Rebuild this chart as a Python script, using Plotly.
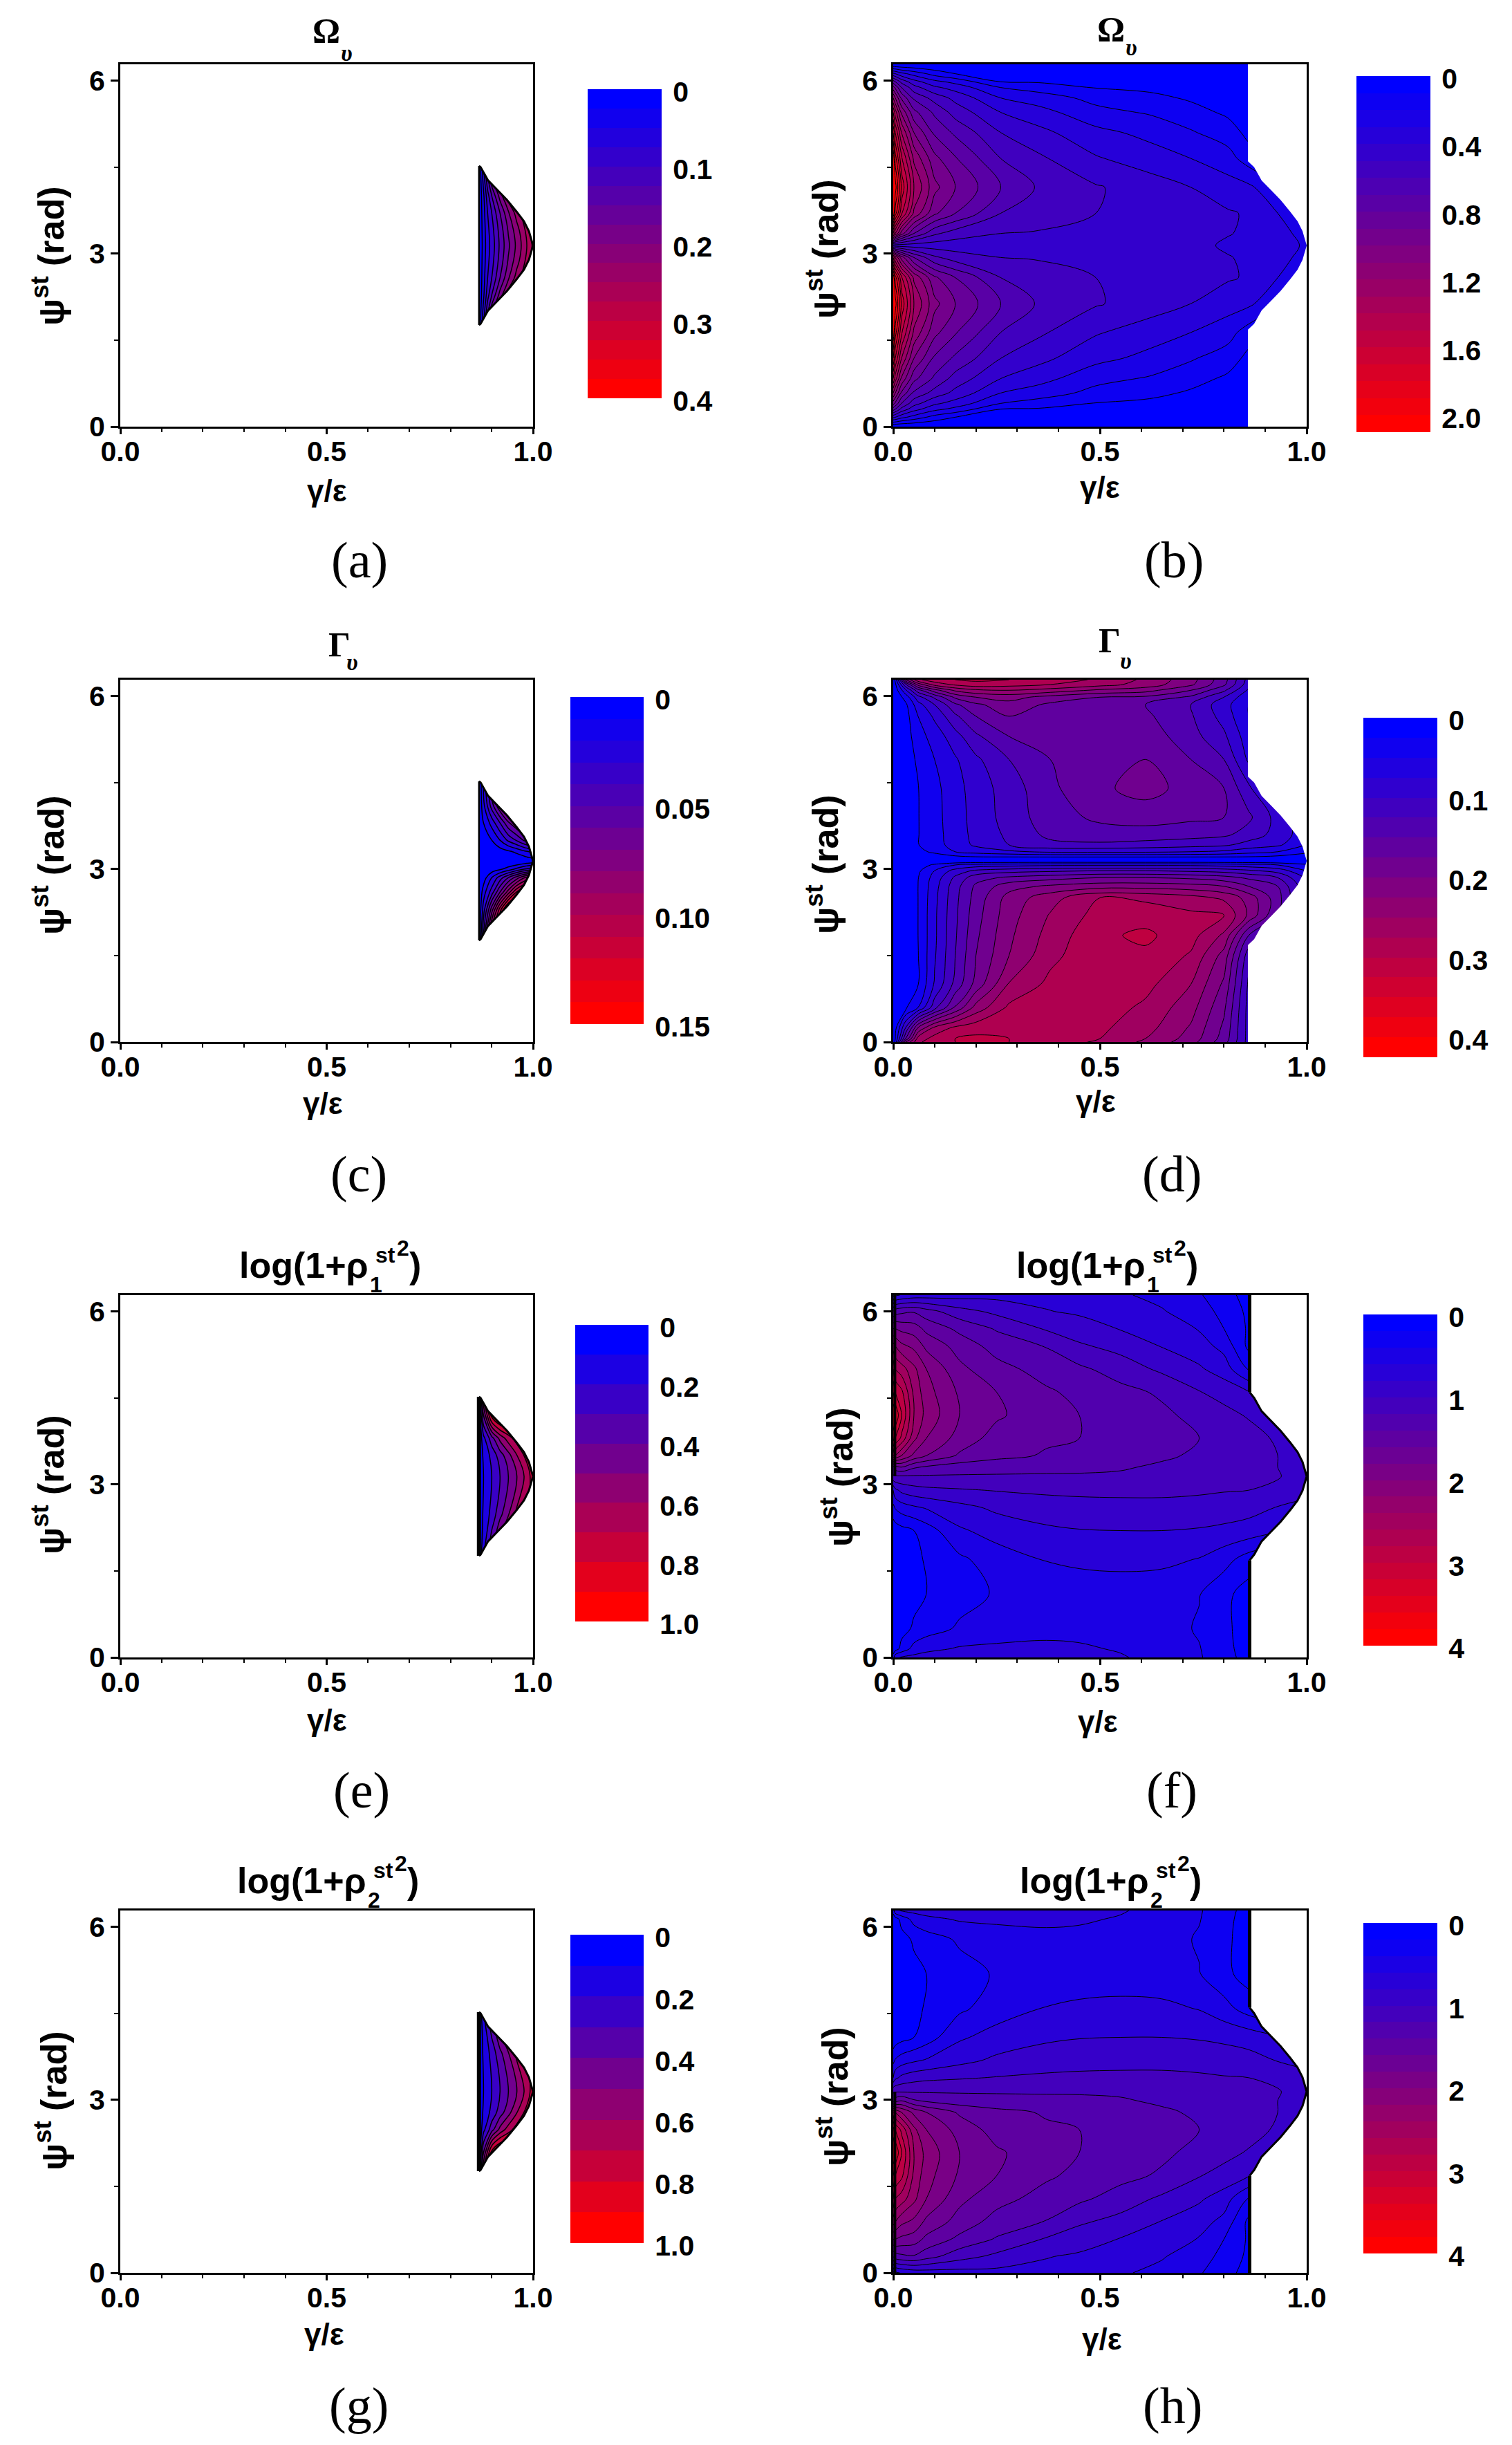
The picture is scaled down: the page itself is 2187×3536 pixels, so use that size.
import plotly.graph_objects as go

W, H = 2187, 3536
TAU = 6.2832

# ---------- hump of the allowed region (gamma/eps, psi) ----------
hump_gamma = [0.873, 0.891, 0.914, 0.937, 0.96, 0.978, 0.99, 1.0]
hump_psi = [4.5, 4.27, 4.1, 3.93, 3.73, 3.56, 3.39, 3.1416]

# ---------- panel (a), upper half, mirrored about pi ----------
a_gamma = [0.869, 0.88, 0.89, 0.90, 0.92, 0.94, 0.96, 0.98, 1.0]
a_psi = [3.1416, 3.4, 3.7, 4.0, 4.3, 4.55]
a_rows = [
    [0, .035, .065, .085, .13, .17, .205, .24, .28],
    [0, .037, .068, .09, .135, .177, .213, .248, .285],
    [0, .04, .075, .1, .15, .195, .235, .27, .3],
    [0, .045, .09, .125, .185, .24, .28, .31, .33],
    [0, .06, .12, .17, .25, .3, .33, .35, .36],
    [0, .07, .14, .2, .28, .32, .35, .37, .38],
]

# ---------- panel (b), upper half, mirrored about pi ----------
b_gamma = [0, .005, .02, .05, .1, .15, .26, .35, .49, .62, .72, .81, .86, .93, 1.0]
b_psi = [3.1416, 3.35, 3.7, 4.15, 4.65, 5.1, 5.45, 5.7, 5.88, 5.98, 6.12, 6.2832]
b_rows = [
    [.45, .45, .45, .45, .45, .45, .45, .45, .45, .44, .43, .385, .37, .33, .29],
    [1.5, 1.3, 1.05, .8, .62, .55, .5, .49, .465, .45, .44, .405, .385, .33, .27],
    [2.1, 1.85, 1.52, 1.18, .92, .8, .6, .56, .5, .47, .44, .41, .39, .3, .22],
    [2.3, 2.05, 1.68, 1.3, 1.03, .9, .7, .59, .51, .45, .4, .345, .32, .22, .15],
    [2.1, 1.85, 1.52, 1.18, .93, .81, .6, .52, .41, .35, .3, .24, .15, .1, .05],
    [1.8, 1.6, 1.3, 1.0, .78, .68, .5, .43, .33, .27, .21, .15, .07, .05, .03],
    [1.5, 1.35, 1.08, .83, .68, .56, .4, .34, .23, .19, .14, .08, .05, .03, .02],
    [1.2, 1.1, .88, .68, .56, .47, .3, .25, .17, .13, .085, .05, .03, .02, .01],
    [.95, .88, .7, .54, .42, .36, .2, .16, .095, .075, .05, .03, .02, .01, .01],
    [.75, .7, .57, .44, .33, .27, .1, .09, .07, .05, .035, .02, .012, .01, .005],
    [.42, .4, .33, .26, .16, .1, .04, .035, .03, .02, .015, .01, .005, .005, .002],
    [0, 0, 0, 0, 0, 0, 0, 0, 0, 0, 0, 0, 0, 0, 0],
]

# ---------- panel (c) ----------
c_gamma = [.869, .88, .90, .92, .94, .96, .98, 1.0]
c_psi = [1.77, 2.0, 2.3, 2.6, 2.85, 3.0, 3.1, 3.1416, 3.2, 3.3, 3.5, 3.8, 4.1, 4.52]
c_rows = [
    [0, .045, .11, .14, .15, .15, .15, .15],
    [0, .035, .09, .13, .15, .15, .15, .15],
    [0, .025, .065, .105, .14, .15, .15, .15],
    [0, .015, .035, .06, .085, .11, .125, .14],
    [0, .005, .02, .035, .05, .065, .08, .09],
    [0, .001, .004, .008, .014, .022, .03, .035],
    [0, 0, .001, .002, .003, .005, .009, .012],
    [0, 0, 0, 0, 0, .001, .002, .003],
    [0, 0, .001, .002, .003, .005, .008, .012],
    [0, .001, .003, .005, .008, .012, .018, .022],
    [0, .002, .01, .02, .032, .041, .052, .06],
    [0, .01, .024, .04, .058, .07, .08, .09],
    [0, .017, .045, .07, .09, .1, .11, .12],
    [0, .02, .06, .09, .1, .11, .12, .13],
]

# ---------- panel (d): each list is one gamma column, psi ascending ----------
d_gamma = [0, .03, .06, .1, .15, .2, .28, .38, .5, .61, .72, .8, .86, .93, 1.0]
d_psi = [0, .06, .25, .6, 1, 1.5, 1.85, 2.2, 2.5, 2.7, 2.85, 2.97, 3.07, 3.1416,
         3.2, 3.3, 3.42, 3.6, 3.9, 4.4, 4.9, 5.3, 5.65, 5.85, 5.98, 6.1, 6.2, 6.2832]
d_columns = [
    [0] * 28,
    [.2, .15, .1, .02, .01, .01, .01, .01, .01, .01, .01, .008, .004, 0, .004, .008, .01, .01, .01, .01, .01, .012, .015, .02, .035, .07, .12, .2],
    [.27, .26, .2, .05, .024, .024, .025, .025, .025, .025, .024, .02, .01, 0, .005, .018, .024, .024, .024, .024, .03, .04, .05, .065, .09, .14, .21, .27],
    [.29, .285, .255, .115, .078, .072, .07, .07, .068, .065, .06, .05, .03, 0, .01, .03, .04, .041, .042, .043, .05, .06, .08, .1, .13, .19, .26, .29],
    [.30, .30, .28, .178, .133, .125, .122, .12, .118, .115, .105, .085, .05, 0, .015, .05, .06, .062, .063, .065, .072, .09, .12, .145, .18, .23, .28, .30],
    [.305, .305, .29, .234, .184, .175, .17, .165, .16, .155, .14, .105, .06, 0, .02, .06, .08, .083, .085, .087, .095, .12, .15, .17, .2, .245, .29, .305],
    [.30, .30, .295, .28, .252, .225, .22, .215, .21, .19, .155, .115, .065, 0, .02, .07, .1, .105, .11, .112, .125, .15, .175, .19, .21, .25, .285, .30],
    [.29, .29, .29, .285, .282, .268, .26, .252, .24, .205, .165, .12, .07, 0, .02, .08, .118, .132, .14, .145, .15, .16, .165, .17, .19, .24, .275, .29],
    [.27, .275, .28, .288, .292, .295, .295, .285, .275, .215, .175, .125, .07, 0, .02, .08, .12, .14, .155, .17, .168, .165, .16, .16, .175, .22, .26, .27],
    [.245, .25, .26, .27, .283, .295, .305, .29, .27, .215, .175, .125, .07, 0, .02, .08, .115, .14, .16, .185, .175, .165, .155, .15, .17, .21, .24, .245],
    [.21, .215, .222, .235, .25, .272, .285, .28, .26, .21, .17, .12, .07, 0, .02, .075, .11, .135, .155, .165, .15, .135, .128, .125, .145, .175, .205, .21],
    [.16, .165, .17, .18, .195, .215, .245, .275, .245, .2, .16, .115, .065, 0, .02, .07, .105, .13, .15, .15, .125, .105, .09, .085, .10, .13, .155, .16],
    [.09, .09, .09, .09, .095, .11, .15, .22, .215, .175, .145, .105, .06, 0, .02, .06, .09, .115, .13, .105, .07, .06, .05, .05, .055, .07, .085, .09],
    [.05, .05, .05, .05, .06, .08, .11, .15, .16, .15, .125, .09, .05, 0, .015, .05, .08, .09, .09, .05, .04, .03, .03, .03, .03, .04, .05, .05],
    [.02, .02, .02, .02, .03, .04, .05, .07, .08, .08, .07, .05, .03, 0, .01, .03, .05, .06, .05, .03, .02, .02, .02, .02, .02, .02, .02, .02],
]

# ---------- panel (e); (g) is the same field seen from 2*pi - psi ----------
e_gamma = [.869, .88, .90, .92, .94, .96, .98, 1.0]
e_psi = [1.75, 2.0, 2.48, 3.1416, 3.5, 3.8, 4.2, 4.54]
e_rows = [
    [0, .2, .45, .65, .8, .85, .9, .95],
    [0, .15, .35, .55, .7, .8, .85, .9],
    [0, .12, .235, .37, .49, .62, .7, .75],
    [0, .1, .2, .3, .395, .495, .61, .75],
    [0, .12, .23, .35, .46, .59, .71, .82],
    [0, .17, .36, .53, .65, .75, .85, .9],
    [0, .4, .85, 1.0, 1.0, 1.0, 1.0, 1.0],
    [0, .6, 1.0, 1.0, 1.0, 1.0, 1.0, 1.0],
]

# ---------- panel (f); (h) is the same field seen from 2*pi - psi ----------
f_gamma = [0, .005, .02, .05, .08, .16, .25, .37, .45, .55, .65, .74, .8, .86, .93, 1.0]
f_psi = [0, .15, .5, 1.1, 1.7, 2.2, 2.6, 2.9, 3.1416, 3.3, 3.5, 3.8, 4.2, 4.6, 5.0, 5.4, 5.7, 6.0, 6.2832]
f_rows = [
    [.3, .55, .62, .66, .68, .7, .7, .69, .66, .62, .52, .42, .28, .12, .05, .02],
    [.05, .1, .27, .47, .55, .62, .64, .65, .63, .58, .48, .41, .27, .1, .05, .02],
    [.02, .06, .12, .23, .3, .43, .49, .53, .53, .53, .48, .38, .25, .1, .05, .02],
    [.02, .04, .08, .14, .2, .32, .42, .47, .49, .49, .47, .41, .25, .12, .06, .03],
    [.03, .05, .09, .15, .22, .36, .5, .61, .64, .66, .65, .59, .48, .3, .2, .1],
    [.05, .08, .13, .2, .3, .57, .68, .76, .79, .8, .8, .78, .75, .72, .62, .5],
    [.35, .42, .5, .57, .62, .74, .84, .92, .95, .96, .96, .95, .92, .87, .79, .7],
    [.6, .75, .85, .92, .95, .98, 1.01, 1.03, 1.03, 1.03, 1.03, 1.02, 1.01, 1.0, .97, .9],
    [1.18, 1.18, 1.18, 1.18, 1.18, 1.18, 1.18, 1.18, 1.18, 1.17, 1.13, 1.1, 1.08, 1.05, 1.01, .93],
    [1.3, 1.5, 1.6, 1.43, 1.37, 1.3, 1.27, 1.25, 1.24, 1.22, 1.17, 1.13, 1.09, 1.06, 1.0, .9],
    [2.7, 2.4, 2.2, 1.95, 1.8, 1.57, 1.46, 1.38, 1.34, 1.29, 1.23, 1.17, 1.12, 1.08, 1.0, .9],
    [3.3, 3.0, 2.75, 2.25, 2.0, 1.72, 1.52, 1.43, 1.4, 1.34, 1.28, 1.2, 1.14, 1.08, .97, .85],
    [3.6, 3.4, 3.0, 2.4, 2.13, 1.8, 1.63, 1.48, 1.4, 1.32, 1.24, 1.14, 1.06, .98, .85, .75],
    [3.2, 3.0, 2.85, 2.35, 2.08, 1.77, 1.6, 1.43, 1.35, 1.26, 1.17, 1.01, .93, .81, .6, .4],
    [2.8, 2.6, 2.5, 2.25, 2.0, 1.65, 1.47, 1.32, 1.24, 1.11, .96, .83, .7, .38, .2, .1],
    [2.3, 2.2, 2.05, 1.95, 1.75, 1.52, 1.32, 1.19, 1.03, .93, .79, .68, .54, .15, .1, .05],
    [1.8, 1.8, 1.75, 1.7, 1.55, 1.35, 1.18, .98, .89, .79, .68, .59, .4, .17, .1, .05],
    [1.2, 1.3, 1.35, 1.38, 1.28, 1.08, .95, .81, .77, .71, .62, .46, .36, .15, .1, .05],
    [.3, .55, .62, .68, .7, .72, .74, .74, .72, .63, .53, .42, .28, .12, .05, .02],
]


def mirror_half(psi, rows):
    return [TAU - p for p in psi[:0:-1]] + psi, rows[:0:-1] + rows


def flip(psi, rows):
    return [TAU - p for p in psi[::-1]], rows[::-1]


a_psi_full, a_z = mirror_half(a_psi, a_rows)
b_psi_full, b_z = mirror_half(b_psi, b_rows)
d_z = [list(r) for r in zip(*d_columns)]
g_psi, g_z = flip(e_psi, e_rows)
h_psi, h_z = flip(f_psi, f_rows)

SANS = "Liberation Sans"
SERIF = "Liberation Serif"

panels = [
    dict(k="a", frame=(174, 771, 93, 617), bar=(850, 957, 129, 576), n=16, step=.025,
         ticks=[0, .1, .2, .3, .4], labels=["0", "0.1", "0.2", "0.3", "0.4"],
         x=a_gamma, y=a_psi_full, z=a_z, edge=.869, outline=(2.5, 3), lw=1.5,
         greek="Ω", gxy=(472, 44), subxy=(501, 76), ytitle=(70, 370), xtitle=(473, 710), tag=(520, 810)),
    dict(k="b", frame=(1292, 1890, 93, 617), bar=(1962, 2069, 110, 625), n=21, step=.1,
         ticks=[0, .4, .8, 1.2, 1.6, 2.0], labels=["0", "0.4", "0.8", "1.2", "1.6", "2.0"],
         x=b_gamma, y=b_psi_full, z=b_z, edge=.858, outline=None, lw=1,
         greek="Ω", gxy=(1607, 42), subxy=(1636, 68), ytitle=(1190, 360), xtitle=(1591, 705), tag=(1698, 810)),
    dict(k="c", frame=(174, 771, 983, 1507), bar=(825, 931, 1008, 1481), n=15, step=.01,
         ticks=[0, .05, .10, .15], labels=["0", "0.05", "0.10", "0.15"],
         x=c_gamma, y=c_psi, z=c_rows, edge=.869, outline=(2.5, 3), lw=1.5,
         greek="Γ", gxy=(491, 932), subxy=(509, 958), ytitle=(70, 1251), xtitle=(467, 1596), tag=(519, 1698)),
    dict(k="d", frame=(1292, 1890, 983, 1507), bar=(1972, 2079, 1038, 1529), n=17, step=.025,
         ticks=[0, .1, .2, .3, .4], labels=["0", "0.1", "0.2", "0.3", "0.4"],
         x=d_gamma, y=d_psi, z=d_z, edge=.858, outline=None, lw=1,
         greek="Γ", gxy=(1605, 926), subxy=(1628, 956), ytitle=(1190, 1250), xtitle=(1585, 1593), tag=(1695, 1698)),
    dict(k="e", frame=(174, 771, 1873, 2397), bar=(832, 938, 1916, 2345), n=10, step=.1,
         ticks=[0, .2, .4, .6, .8, 1.0], labels=["0", "0.2", "0.4", "0.6", "0.8", "1.0"],
         x=e_gamma, y=e_psi, z=e_rows, edge=.869, outline=(6, 3), lw=1.5,
         rho="1", rhox=169, ytitle=(70, 2147), xtitle=(473, 2487), tag=(523, 2589)),
    dict(k="f", frame=(1292, 1890, 1873, 2397), bar=(1972, 2079, 1901, 2380), n=20, step=.2,
         ticks=[0, 1, 2, 3, 4], labels=["0", "1", "2", "3", "4"],
         x=f_gamma, y=f_psi, z=f_rows, edge=.862, outline=(5, 3), lw=1, left=(3.1416, TAU),
         rho="1", rhox=175, ytitle=(1211, 2136), xtitle=(1588, 2489), tag=(1695, 2589)),
    dict(k="g", frame=(174, 771, 2763, 3287), bar=(825, 931, 2798, 3244), n=10, step=.1,
         ticks=[0, .2, .4, .6, .8, 1.0], labels=["0", "0.2", "0.4", "0.6", "0.8", "1.0"],
         x=e_gamma, y=g_psi, z=g_z, edge=.869, outline=(6, 3), lw=1.5,
         rho="2", rhox=166, ytitle=(74, 3038), xtitle=(469, 3375), tag=(519, 3479)),
    dict(k="h", frame=(1292, 1890, 2763, 3287), bar=(1972, 2079, 2781, 3259), n=20, step=.2,
         ticks=[0, 1, 2, 3, 4], labels=["0", "1", "2", "3", "4"],
         x=f_gamma, y=h_psi, z=h_z, edge=.862, outline=(5, 3), lw=1, left=(0, 3.1416),
         rho="2", rhox=180, ytitle=(1204, 3032), xtitle=(1594, 3382), tag=(1696, 3479)),
]

BLUE_RED = [[0, "rgb(0,0,255)"], [1, "rgb(255,0,0)"]]
KEY_LABEL_DROP = 4
KEY_EXTRA_PX = 12

fig = go.Figure()
layout = {}
notes = []


def note(text, x, y, size, family=SANS, bold=True, angle=0, italic=False):
    notes.append(dict(
        text=text, x=x / W, y=1 - y / H, xref="paper", yref="paper",
        xanchor="center", yanchor="middle", showarrow=False, textangle=angle,
        font=dict(family=family, size=size, color="black",
                  weight=700 if bold else 400, style="italic" if italic else "normal"),
    ))


def black_line(xs, ys, width, xa, ya):
    fig.add_trace(go.Scatter(
        x=xs, y=ys, xaxis=xa, yaxis=ya, mode="lines",
        line=dict(color="black", width=width), hoverinfo="skip", showlegend=False))


for i, p in enumerate(panels):
    n1, n2 = 2 * i + 1, 2 * i + 2
    xa, ya = f"x{n1}", f"y{n1}"
    xb, yb = f"x{n2}", f"y{n2}"
    l, r, t, b = p["frame"]
    layout[f"xaxis{n1}"] = dict(
        domain=[l / W, r / W], range=[0, 1], anchor=ya, dtick=.5, tick0=0, tickformat=".1f", automargin=False,
        ticks="outside", ticklen=8, tickwidth=3, tickcolor="black", ticklabelstandoff=-10,
        minor=dict(dtick=.1, tick0=0, ticks="outside", ticklen=5, tickwidth=2, tickcolor="black"),
        showline=True, linewidth=3, linecolor="black", mirror=True, showgrid=False, zeroline=False,
        tickfont=dict(family=SANS, size=41, color="black", weight=700),
    )
    layout[f"yaxis{n1}"] = dict(
        domain=[1 - b / H, 1 - t / H], range=[0, TAU], anchor=xa, dtick=3, tick0=0, automargin=False,
        ticks="outside", ticklen=11, tickwidth=3, tickcolor="black",
        minor=dict(dtick=1.5, tick0=0, ticks="outside", ticklen=6, tickwidth=2, tickcolor="black"),
        showline=True, linewidth=3, linecolor="black", mirror=True, showgrid=False, zeroline=False,
        tickfont=dict(family=SANS, size=41, color="black", weight=700),
    )
    n, step = p["n"], p["step"]
    fig.add_trace(go.Contour(
        x=p["x"], y=p["y"], z=p["z"], xaxis=xa, yaxis=ya, showscale=False, hoverinfo="skip",
        colorscale=BLUE_RED,
        contours=dict(start=step, end=(n - 1) * step, size=step, coloring="fill", showlines=True),
        line=dict(color="black", width=p["lw"], smoothing=1.0),
    ))
    e = p["edge"]
    up_x, up_y = hump_gamma, hump_psi
    low_x, low_y = hump_gamma[-2::-1], [TAU - v for v in hump_psi[-2::-1]]
    edge_hi = 4.6 if e < .869 else 4.52
    edge_lo = TAU - edge_hi
    mask_x = [e, e] + up_x + low_x + [e, e, 1.02, 1.02, e]
    mask_y = [6.5, edge_hi] + up_y + low_y + [edge_lo, -.2, -.2, 6.5, 6.5]
    fig.add_trace(go.Scatter(
        x=mask_x, y=mask_y, xaxis=xa, yaxis=ya, mode="lines", fill="toself",
        fillcolor="white", line=dict(width=0, color="white"), hoverinfo="skip", showlegend=False,
    ))
    if p["outline"]:
        w_edge, w_hump = p["outline"]
        if e == .869:
            black_line([e, e], [edge_lo, edge_hi], w_edge, xa, ya)
        else:
            black_line([e, e], [0, edge_lo], w_edge, xa, ya)
            black_line([e, e], [edge_hi, TAU], w_edge, xa, ya)
        black_line([e] + up_x + low_x + [e], [edge_hi] + up_y + low_y + [edge_lo], w_hump, xa, ya)
    if "left" in p:
        black_line([.004, .004], list(p["left"]), 4, xa, ya)

    # colour key, drawn as a stepped heatmap with 0 at the top
    bl, br, bt, bb = p["bar"]
    per_px = n * step / (bb - bt)
    drop = KEY_LABEL_DROP * per_px
    layout[f"xaxis{n2}"] = dict(domain=[bl / W, br / W], range=[0, 1], anchor=yb, visible=False, automargin=False)
    layout[f"yaxis{n2}"] = dict(
        domain=[1 - (bb + KEY_EXTRA_PX) / H, 1 - bt / H], range=[n * step + KEY_EXTRA_PX * per_px, 0],
        anchor=xb, side="right", automargin=False,
        tickmode="array", tickvals=[v + drop for v in p["ticks"]], ticktext=p["labels"],
        ticks="outside", ticklen=7, tickwidth=1, tickcolor="rgba(0,0,0,0)",
        showline=False, showgrid=False, zeroline=False,
        tickfont=dict(family=SANS, size=41, color="black", weight=700),
    )
    fig.add_trace(go.Heatmap(
        x=[0, 1], y=[(k + .5) * step for k in range(n)], z=[[k, k] for k in range(n)],
        xaxis=xb, yaxis=yb, colorscale=BLUE_RED, zmin=0, zmax=n - 1, showscale=False,
        hoverinfo="skip", zsmooth=False,
    ))

    # texts
    note("ψ<sup>st</sup> (rad)", p["ytitle"][0], p["ytitle"][1], 52, angle=-90)
    note("γ/ε", p["xtitle"][0], p["xtitle"][1], 44)
    note(f"({p['k']})", p["tag"][0], p["tag"][1], 74, family=SERIF, bold=False)
    if "greek" in p:
        note(p["greek"], p["gxy"][0], p["gxy"][1], 50, family=SERIF)
        note("υ", p["subxy"][0], p["subxy"][1], 34, family=SERIF, italic=True)
    else:
        x0 = l + p["rhox"]
        note("log(1+ρ", x0 + 96, t - 43, 52)
        note(p["rho"], x0 + 201, t - 15, 32)
        note("st", x0 + 214, t - 58, 32)
        note("2", x0 + 240, t - 68, 32)
        note(")", x0 + 257, t - 43, 52)

fig.update_layout(
    width=W, height=H, autosize=False, margin=dict(l=0, r=0, t=0, b=0, pad=0),
    paper_bgcolor="white", plot_bgcolor="white", showlegend=False, annotations=notes, **layout,
)
fig.write_html("out.html", post_script="document.body.style.margin='0';", config={"displayModeBar": False})
